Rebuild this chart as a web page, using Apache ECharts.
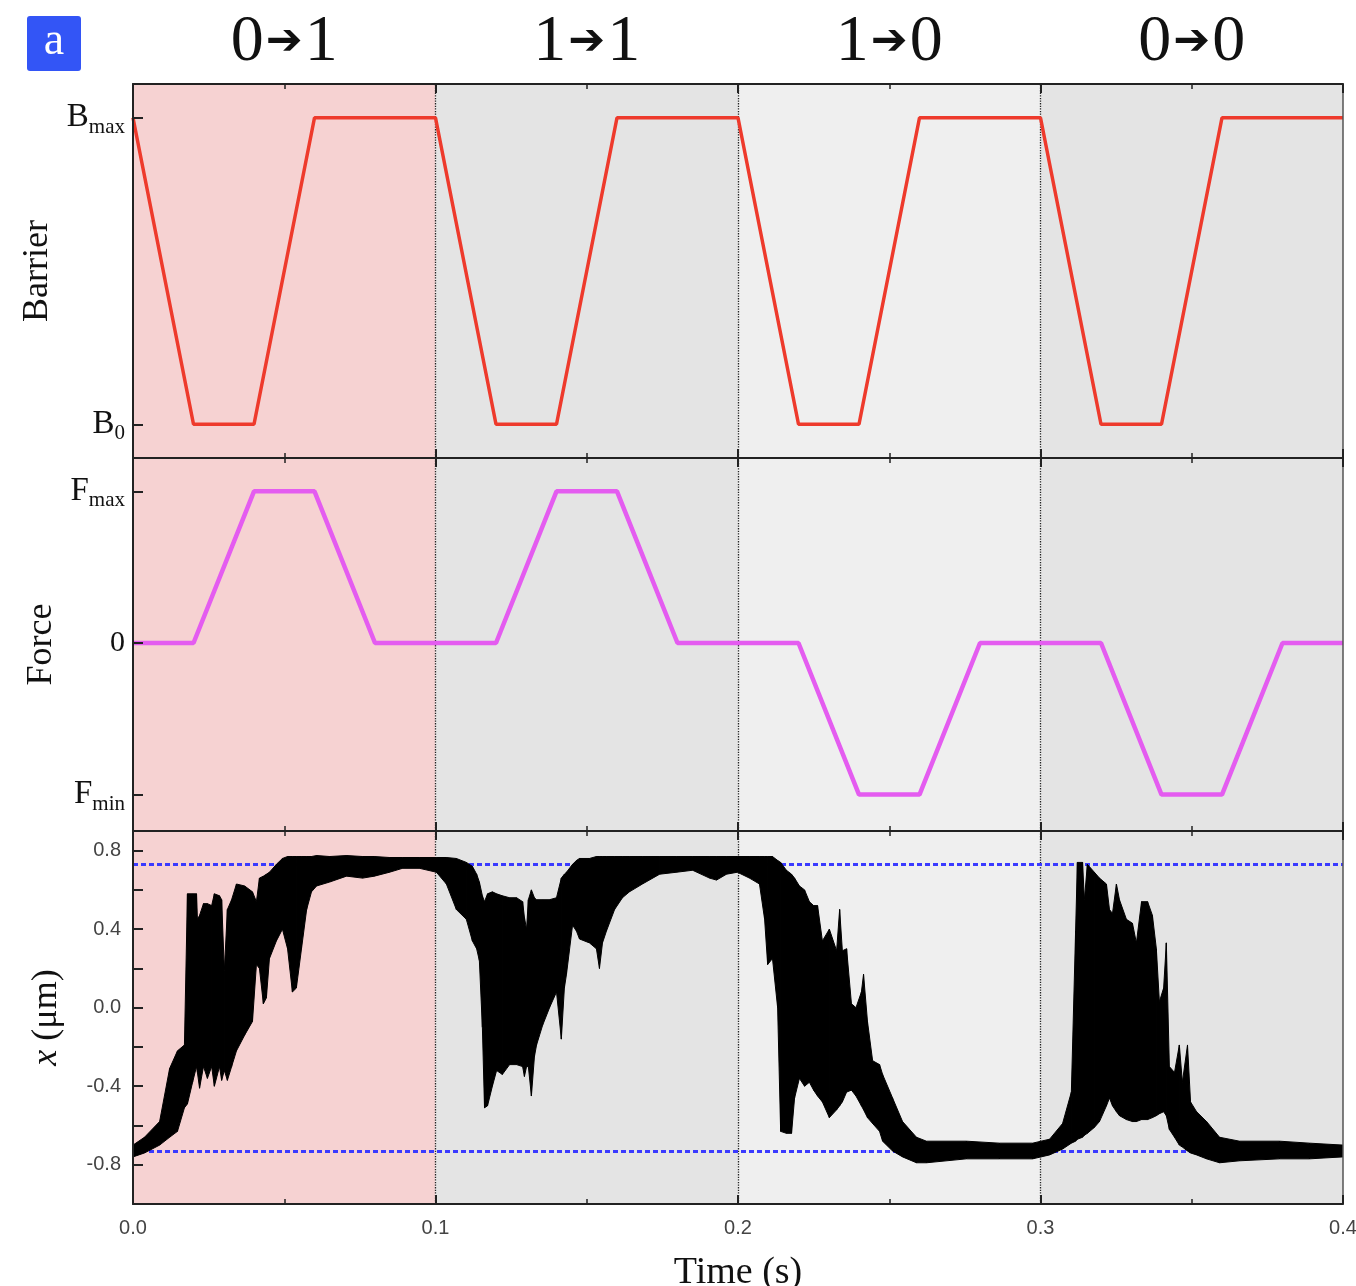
<!DOCTYPE html>
<html><head><meta charset="utf-8">
<script src="https://cdn.jsdelivr.net/npm/echarts@6/dist/echarts.min.js"></script>
<style>html,body{margin:0;padding:0;background:#fff}#c{width:1356px;height:1286px}</style>
</head><body><div id="c"></div>
<script>
// ---------- data ----------
const segLabels = ['0→1', '1→1', '1→0', '0→0'];
const segBounds = [0, 0.1, 0.2, 0.3, 0.4];
const segColors = ['#f6d2d2', '#e4e4e4', '#efefef', '#e4e4e4'];
const timeTicks = [0, 0.1, 0.2, 0.3, 0.4];

const barrierT = [0, 0.02, 0.04, 0.06, 0.1, 0.12, 0.14, 0.16, 0.2, 0.22, 0.24, 0.26, 0.3, 0.32, 0.34, 0.36, 0.4];
const barrierV = [1, 0, 0, 1, 1, 0, 0, 1, 1, 0, 0, 1, 1, 0, 0, 1, 1];

const forceT = [0, 0.02, 0.04, 0.06, 0.08, 0.12, 0.14, 0.16, 0.18, 0.22, 0.24, 0.26, 0.28, 0.32, 0.34, 0.36, 0.38, 0.4];
const forceV = [0, 0, 1, 1, 0, 0, 1, 1, 0, 0, -1, -1, 0, 0, -1, -1, 0, 0];

const xT = [
 0.0000,0.0038,0.0088,0.0121,0.0147,0.0170,0.0180,0.0197,0.0210,0.0213,
 0.0220,0.0233,0.0246,0.0260,0.0269,0.0286,0.0293,0.0302,0.0312,0.0326,
 0.0342,0.0369,0.0395,0.0408,0.0418,0.0431,0.0441,0.0451,0.0474,0.0494,
 0.0511,0.0527,0.0540,0.0557,0.0574,0.0590,0.0607,0.0650,0.0706,0.0759,
 0.0798,0.0848,0.0891,0.0947,0.1003,0.1036,0.1069,0.1102,0.1122,0.1136,
 0.1145,0.1155,0.1162,0.1172,0.1188,0.1202,0.1221,0.1245,0.1268,0.1288,
 0.1294,0.1301,0.1307,0.1317,0.1327,0.1334,0.1354,0.1377,0.1400,0.1416,
 0.1426,0.1433,0.1453,0.1466,0.1476,0.1509,0.1532,0.1542,0.1552,0.1565,
 0.1592,0.1618,0.1641,0.1684,0.1741,0.1797,0.1850,0.1906,0.1929,0.1962,
 0.1998,0.2038,0.2071,0.2088,0.2098,0.2114,0.2131,0.2141,0.2160,0.2177,
 0.2187,0.2203,0.2220,0.2236,0.2250,0.2263,0.2279,0.2302,0.2326,0.2336,
 0.2345,0.2359,0.2375,0.2390,0.2408,0.2415,0.2428,0.2445,0.2468,0.2478,
 0.2511,0.2544,0.2590,0.2623,0.2755,0.2864,0.2974,0.3030,0.3073,0.3102,
 0.3116,0.3122,0.3139,0.3145,0.3155,0.3178,0.3195,0.3218,0.3228,0.3238,
 0.3251,0.3261,0.3284,0.3304,0.3317,0.3334,0.3354,0.3370,0.3383,0.3393,
 0.3407,0.3416,0.3426,0.3443,0.3459,0.3469,0.3486,0.3496,0.3516,0.3549,
 0.3592,0.3658,0.3790,0.3889,0.4000
];
const xUpper = [
 -0.70,-0.66,-0.58,-0.31,-0.22,-0.19,0.58,0.58,0.58,0.45,
 0.47,0.53,0.53,0.52,0.58,0.57,0.55,0.19,0.50,0.55,
 0.63,0.62,0.59,0.54,0.66,0.67,0.68,0.69,0.73,0.76,
 0.77,0.77,0.77,0.77,0.77,0.77,0.775,0.77,0.775,0.77,
 0.77,0.765,0.765,0.765,0.765,0.765,0.76,0.74,0.72,0.68,
 0.64,0.57,0.54,0.58,0.59,0.58,0.57,0.56,0.56,0.54,
 0.46,0.40,0.55,0.60,0.56,0.55,0.55,0.55,0.56,0.66,
 0.68,0.69,0.73,0.75,0.76,0.76,0.77,0.77,0.77,0.77,
 0.77,0.77,0.77,0.77,0.77,0.77,0.77,0.77,0.77,0.77,
 0.77,0.77,0.77,0.77,0.77,0.77,0.75,0.74,0.70,0.68,
 0.66,0.62,0.60,0.54,0.52,0.52,0.34,0.40,0.29,0.50,
 0.29,0.30,0.02,0.00,0.08,0.17,-0.07,-0.27,-0.29,-0.34,
 -0.46,-0.58,-0.66,-0.68,-0.68,-0.69,-0.69,-0.67,-0.59,-0.43,
 0.39,0.74,0.74,0.55,0.73,0.69,0.66,0.63,0.50,0.48,
 0.63,0.55,0.45,0.43,0.33,0.54,0.54,0.47,0.30,0.03,
 0.10,0.33,-0.30,-0.33,-0.19,-0.38,-0.19,-0.48,-0.53,-0.58,
 -0.66,-0.68,-0.68,-0.69,-0.70
];
const xLower = [
 -0.76,-0.74,-0.70,-0.66,-0.63,-0.51,-0.49,-0.38,-0.30,-0.33,
 -0.41,-0.30,-0.36,-0.30,-0.40,-0.30,-0.37,-0.32,-0.37,-0.30,
 -0.22,-0.14,-0.07,0.22,0.20,0.02,0.05,0.25,0.34,0.40,
 0.30,0.08,0.10,0.30,0.50,0.59,0.62,0.64,0.67,0.66,
 0.67,0.69,0.71,0.71,0.69,0.63,0.50,0.45,0.34,0.30,
 0.24,-0.10,-0.51,-0.50,-0.40,-0.32,-0.34,-0.29,-0.29,-0.30,
 -0.35,-0.30,-0.30,-0.45,-0.25,-0.19,-0.09,0.00,0.08,-0.16,
 0.10,0.17,0.42,0.39,0.35,0.33,0.30,0.20,0.33,0.39,
 0.50,0.56,0.59,0.63,0.68,0.69,0.70,0.66,0.65,0.68,
 0.69,0.66,0.63,0.45,0.22,0.25,0.00,-0.63,-0.64,-0.64,
 -0.46,-0.36,-0.40,-0.38,-0.42,-0.45,-0.48,-0.56,-0.52,-0.50,
 -0.48,-0.43,-0.42,-0.45,-0.50,-0.52,-0.56,-0.59,-0.63,-0.68,
 -0.73,-0.76,-0.79,-0.79,-0.77,-0.77,-0.77,-0.75,-0.72,-0.69,
 -0.68,-0.67,-0.66,-0.65,-0.64,-0.61,-0.58,-0.50,-0.46,-0.50,
 -0.53,-0.55,-0.57,-0.58,-0.58,-0.57,-0.57,-0.56,-0.55,-0.54,
 -0.53,-0.55,-0.62,-0.66,-0.70,-0.71,-0.73,-0.74,-0.75,-0.77,
 -0.79,-0.78,-0.77,-0.77,-0.76
];
const xRefLevels = [0.73, -0.73];
const xLabelValues = [-0.8, -0.4, 0, 0.4, 0.8];

// ---------- chart ----------
const serif = 'Liberation Serif';
const sans = 'Liberation Sans';
const axisColor = '#222';
const chart = echarts.init(document.getElementById('c'));

const grids = [
  {left: 133, right: 13, top: 84, height: 374, outerBoundsMode: 'none', containLabel: false},
  {left: 133, right: 13, top: 458, height: 373, outerBoundsMode: 'none', containLabel: false},
  {left: 133, right: 13, top: 831, height: 373, outerBoundsMode: 'none', containLabel: false}
];

function xAxesFor(g, withLabels) {
  const base = {
    type: 'value', gridIndex: g, min: 0, max: 0.4, interval: 0.1, z: 10,
    axisLine: {show: true, onZero: false, lineStyle: {color: axisColor, width: 2}},
    axisTick: {show: true, inside: true, length: 9, lineStyle: {color: axisColor, width: 2}},
    minorTick: {show: true, splitNumber: 2, length: 5, lineStyle: {color: axisColor, width: 1.5}},
    splitLine: {show: false}
  };
  const bottom = Object.assign({}, base, {position: 'bottom',
    axisLabel: withLabels ? {show: true, formatter: v => v.toFixed(1), fontFamily: sans, fontSize: 20, color: '#444', margin: 14} : {show: false}
  });
  if (withLabels) {
    Object.assign(bottom, {name: 'Time (s)', nameLocation: 'middle', nameGap: 50,
      nameTextStyle: {fontFamily: serif, fontSize: 38, color: '#111'}});
  }
  const top = Object.assign({}, base, {position: 'top', axisLabel: {show: false}});
  return [bottom, top];
}

const subRich = {
  b: {fontFamily: serif, fontSize: 33, color: '#111', lineHeight: 40, verticalAlign: 'middle'},
  s: {fontFamily: serif, fontSize: 21, color: '#111', lineHeight: 40, verticalAlign: 'bottom'},
  n: {fontFamily: serif, fontSize: 30, color: '#111'}
};
const nameStyle = {fontFamily: serif, fontSize: 36, color: '#111',
  rich: {i: {fontFamily: serif, fontStyle: 'italic', fontSize: 36, color: '#111'}}};

function yPair(g, min, max, extra) {
  const left = Object.assign({
    type: 'value', gridIndex: g, position: 'left', min: min, max: max, z: 10,
    axisLine: {show: true, onZero: false, lineStyle: {color: axisColor, width: 2}},
    splitLine: {show: false},
    nameLocation: 'middle', nameRotate: 90, nameGap: 70, nameTextStyle: nameStyle
  }, extra);
  const right = {type: 'value', gridIndex: g, position: 'right', min: min, max: max, z: 10,
    axisLine: {show: true, onZero: false, lineStyle: {color: '#555', width: 1.5}},
    axisTick: {show: false}, axisLabel: {show: false}, splitLine: {show: false}};
  return [left, right];
}

const yAxes = [].concat(
  yPair(0, -0.11, 1.11, {
    name: 'Barrier', nameGap: 62,
    axisTick: {show: true, inside: true, length: 10, customValues: [0, 1], lineStyle: {color: axisColor, width: 2}},
    axisLabel: {show: true, customValues: [0, 1], margin: 8, rich: subRich,
      formatter: v => v === 1 ? '{b|B}{s|max}' : '{b|B}{s|0}'}
  }),
  yPair(1, -1.24, 1.22, {
    name: 'Force', nameGap: 65,
    axisTick: {show: true, inside: true, length: 10, customValues: [-1, 0, 1], lineStyle: {color: axisColor, width: 2}},
    axisLabel: {show: true, customValues: [-1, 0, 1], margin: 8, rich: subRich,
      formatter: v => v === 1 ? '{b|F}{s|max}' : (v === -1 ? '{b|F}{s|min}' : '{n|0}')}
  }),
  yPair(2, -1.0, 0.9, {
    name: '{i|x} (μm)', nameGap: 68, interval: 0.2,
    axisTick: {show: true, inside: true, length: 10, lineStyle: {color: axisColor, width: 2}},
    axisLabel: {show: true, customValues: xLabelValues, margin: 12, fontFamily: sans, fontSize: 20, color: '#444',
      formatter: v => v.toFixed(1)}
  })
);

const xAxes = [].concat(xAxesFor(0, false), xAxesFor(1, false), xAxesFor(2, true));

function bgSeries(g, extraLines) {
  const areas = [];
  for (let k = 0; k < segColors.length; k++) {
    areas.push([{xAxis: segBounds[k], itemStyle: {color: segColors[k]}}, {xAxis: segBounds[k + 1]}]);
  }
  const s = [{
    type: 'line', xAxisIndex: 2 * g, yAxisIndex: 2 * g, data: [], z: 1, silent: true,
    markArea: {silent: true, z: 1, data: areas, label: {show: false}},
    markLine: {silent: true, z: 2, symbol: 'none', label: {show: false},
      lineStyle: {type: 'dotted', color: '#222', width: 1.3},
      data: segBounds.slice(1, -1).map(v => ({xAxis: v}))}
  }];
  if (extraLines) s.push(extraLines);
  return s;
}

// band polygon between lower and upper envelope, drawn through the axis scales
const bandData = xT.map((t, i) => [t, xUpper[i], xLower[i]]);
function renderBand(params, api) {
  const i = params.dataIndex;
  if (i === 0) return null;
  const p = bandData[i - 1], q = bandData[i];
  const pts = [
    api.coord([p[0], p[1]]), api.coord([q[0], q[1]]),
    api.coord([q[0], q[2]]), api.coord([p[0], p[2]])
  ];
  return {type: 'polygon', shape: {points: pts}, style: {fill: '#000', stroke: '#000', lineWidth: 1}};
}

const series = [].concat(
  bgSeries(0),
  [{type: 'line', name: 'barrier', xAxisIndex: 0, yAxisIndex: 0, z: 3, symbol: 'none',
    data: barrierT.map((t, i) => [t, barrierV[i]]),
    lineStyle: {color: '#ee3a2c', width: 3.5}}],
  bgSeries(1),
  [{type: 'line', name: 'force', xAxisIndex: 2, yAxisIndex: 2, z: 3, symbol: 'none',
    data: forceT.map((t, i) => [t, forceV[i]]),
    lineStyle: {color: '#e45cf0', width: 4.5}}],
  bgSeries(2, {type: 'line', xAxisIndex: 4, yAxisIndex: 4, data: [], z: 2, silent: true,
    markLine: {silent: true, z: 2, symbol: 'none', label: {show: false},
      lineStyle: {type: [5, 3], color: '#3a3aff', width: 3},
      data: xRefLevels.map(v => ({yAxis: v}))}}),
  [{type: 'custom', name: 'x', xAxisIndex: 4, yAxisIndex: 4, z: 4, silent: true,
    data: bandData, encode: {x: 0, y: [1, 2]}, renderItem: renderBand, clip: true}]
);

chart.setOption({
  animation: false,
  backgroundColor: '#fff',
  grid: grids,
  xAxis: xAxes,
  yAxis: yAxes,
  series: series
});

// segment titles and panel tag
const graphics = [
  {type: 'rect', shape: {x: 27, y: 16, width: 54, height: 55, r: 3}, style: {fill: '#3355f6'}},
  {type: 'text', x: 54, y: 42, style: {text: 'a', fill: '#fff', font: '46px "Liberation Serif"', align: 'center', verticalAlign: 'middle'}}
];
segLabels.forEach((lab, k) => {
  const parts = lab.split('→');
  const cx = chart.convertToPixel({xAxisIndex: 0}, (segBounds[k] + segBounds[k + 1]) / 2);
  graphics.push({type: 'text', x: cx, y: 43, style: {
    text: '{d|' + parts[0] + '}{a|➔}{d|' + parts[1] + '}',
    align: 'center', verticalAlign: 'middle',
    rich: {
      d: {fontFamily: serif, fontSize: 66, fill: '#111', color: '#111'},
      a: {fontFamily: 'DejaVu Sans', fontSize: 44, fill: '#111', color: '#111', padding: [0, 2, 0, 2]}
    }
  }});
});
chart.setOption({graphic: graphics});
</script>
</body></html>
